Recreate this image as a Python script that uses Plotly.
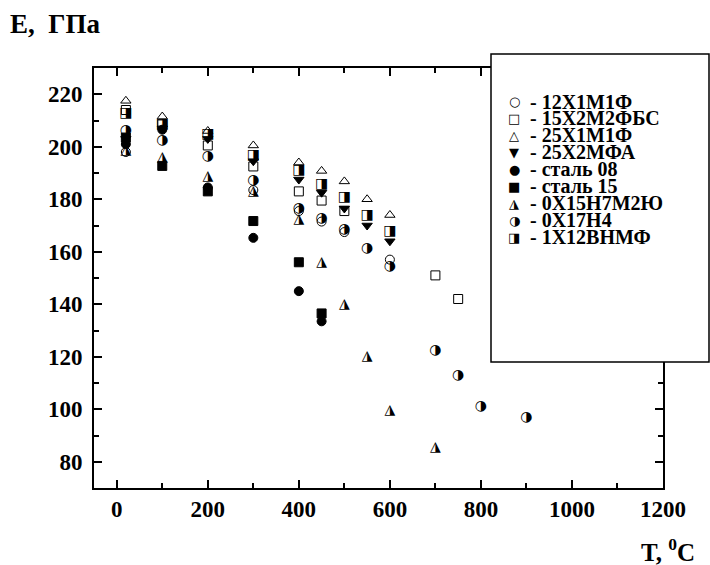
import plotly.graph_objects as go

# ---------------- data ----------------
T_12X1M1F = [20, 300, 400, 450, 500, 600]
E_12X1M1F = [198.0, 183.5, 175.5, 171.5, 167.5, 157.0]

T_15X2M2FBS = [20, 100, 200, 300, 400, 450, 500, 700, 750]
E_15X2M2FBS = [214.0, 208.5, 200.5, 192.5, 183.0, 179.5, 175.5, 151.0, 142.0]

T_25X1M1F = [20, 100, 200, 300, 400, 450, 500, 550, 600]
E_25X1M1F = [217.5, 211.5, 206.0, 200.5, 194.0, 190.8, 186.8, 180.0, 174.0]

T_25X2MFA = [20, 100, 200, 300, 400, 450, 500, 550, 600]
E_25X2MFA = [203.0, 207.0, 203.0, 194.5, 187.5, 182.5, 176.5, 170.0, 164.0]

T_ST08 = [20, 100, 200, 300, 400, 450]
E_ST08 = [201.0, 206.5, 184.5, 165.3, 145.0, 133.5]

T_ST15 = [20, 100, 200, 300, 400, 450]
E_ST15 = [203.5, 192.7, 183.0, 171.7, 156.0, 136.5]

T_0X15H7M2YU = [20, 100, 200, 300, 400, 450, 500, 550, 600, 700]
E_0X15H7M2YU = [198.5, 195.8, 188.8, 183.0, 172.3, 155.8, 139.9, 120.2, 99.5, 85.3]

T_0X17H4 = [20, 100, 200, 300, 400, 450, 500, 550, 600, 700, 750, 800, 900]
E_0X17H4 = [206.3, 202.5, 196.2, 187.0, 176.5, 172.5, 168.5, 161.3, 154.5, 122.5, 112.8, 101.2, 96.8]

T_1X12BHMF = [20, 100, 200, 300, 400, 450, 500, 550, 600]
E_1X12BHMF = [212.5, 208.3, 204.5, 196.5, 190.8, 185.8, 180.8, 174.0, 167.7]

NAMES = ["12Х1М1Ф", "15Х2М2ФБС", "25Х1М1Ф", "25Х2МФА", "сталь 08",
         "сталь 15", "0Х15Н7М2Ю", "0Х17Н4", "1Х12ВНМФ"]

X_TICKS = [0, 200, 400, 600, 800, 1000, 1200]
Y_TICKS = [80, 100, 120, 140, 160, 180, 200, 220]

# ---------------- styles ----------------
SERIF = "Liberation Serif"
GLYPH_FONT = "DejaVu Sans"

# (T, E, kind, symbol/glyph, legend glyph)
series = [
    (T_12X1M1F, E_12X1M1F, "marker", "circle-open", "○"),
    (T_15X2M2FBS, E_15X2M2FBS, "marker", "square-open", "□"),
    (T_25X1M1F, E_25X1M1F, "marker", "triangle-up-open", "△"),
    (T_25X2MFA, E_25X2MFA, "marker", "triangle-down", "▼"),
    (T_ST08, E_ST08, "marker", "circle", "●"),
    (T_ST15, E_ST15, "marker", "square", "■"),
    (T_0X15H7M2YU, E_0X15H7M2YU, "glyph", "◮", "◮"),
    (T_0X17H4, E_0X17H4, "glyph", "◑", "◑"),
    (T_1X12BHMF, E_1X12BHMF, "glyph", "◨", "◨"),
]

fig = go.Figure()
for (t, e, kind, sym, _), name in zip(series, NAMES):
    if kind == "marker":
        fig.add_trace(go.Scatter(
            x=t, y=e, mode="markers", name=name, showlegend=False,
            marker=dict(symbol=sym, size=9, color="black",
                        line=dict(color="black", width=1)),
        ))
    else:
        fig.add_trace(go.Scatter(
            x=t, y=e, mode="text", name=name, showlegend=False,
            text=[sym] * len(t), textposition="middle center",
            textfont=dict(family=GLYPH_FONT, size=14, color="black"),
        ))

axis_common = dict(
    showline=True, linecolor="black", linewidth=1.6, mirror="ticks",
    ticks="inside", ticklen=8, tickwidth=1.5, tickcolor="black",
    showgrid=False, zeroline=False,
    tickfont=dict(family=SERIF, size=23, color="black", weight="bold"),
)

fig.update_xaxes(range=[-50, 1200], tickmode="array", tickvals=X_TICKS,
                 ticktext=[str(v) for v in X_TICKS],
                 minor=dict(dtick=100, tick0=0, ticks="inside", ticklen=5,
                            tickwidth=1.5, tickcolor="black"),
                 ticklabelstandoff=0,
                 **axis_common)
fig.update_yaxes(range=[70, 230], tickmode="array", tickvals=Y_TICKS,
                 ticktext=[str(v) for v in Y_TICKS],
                 minor=dict(dtick=10, tick0=0, ticks="inside", ticklen=5,
                            tickwidth=1.5, tickcolor="black"),
                 ticklabelstandoff=5,
                 **axis_common)

# ---------------- layout geometry (pixels) ----------------
W, H = 710, 565
L, R, TOP, BOT = 94, 663, 68, 488

def px(xp):
    return (xp - L) / (R - L)

def py(yp):
    return (BOT - yp) / (BOT - TOP)

shapes = [dict(type="rect", xref="paper", yref="paper",
               x0=px(491), x1=px(709), y0=py(362), y1=py(54),
               line=dict(color="black", width=1.5), fillcolor="white",
               layer="above")]

annotations = []
row0, step = 101.5, 16.95
for i, ((_, _, _, _, glyph), name) in enumerate(zip(series, NAMES)):
    yc = py(row0 + i * step)
    annotations.append(dict(xref="paper", yref="paper", x=px(514), y=yc,
                            text=glyph, showarrow=False, xanchor="center",
                            yanchor="middle",
                            font=dict(family=GLYPH_FONT, size=13, color="black")))
    annotations.append(dict(xref="paper", yref="paper", x=px(528), y=yc,
                            text="- " + name, showarrow=False, xanchor="left",
                            yanchor="middle",
                            font=dict(family=SERIF, size=20, color="black",
                                      weight="bold")))

annotations.append(dict(xref="paper", yref="paper", x=px(8), y=py(24),
                        text="E,  ГПа", showarrow=False, xanchor="left",
                        yanchor="middle",
                        font=dict(family=SERIF, size=27, color="black",
                                  weight="bold")))
annotations.append(dict(xref="paper", yref="paper", x=px(697), y=py(550),
                        text="T, <sup>0</sup>C", showarrow=False,
                        xanchor="right", yanchor="middle",
                        font=dict(family=SERIF, size=25, color="black",
                                  weight="bold")))

fig.update_layout(
    width=W, height=H,
    margin=dict(l=L, r=W - R, t=TOP, b=H - BOT, autoexpand=False),
    paper_bgcolor="white", plot_bgcolor="white",
    shapes=shapes, annotations=annotations, showlegend=False,
)

fig.write_html("out.html",
               config={"displayModeBar": False},
               post_script="document.body.style.margin='0';"
                           "document.body.style.overflow='hidden';")
